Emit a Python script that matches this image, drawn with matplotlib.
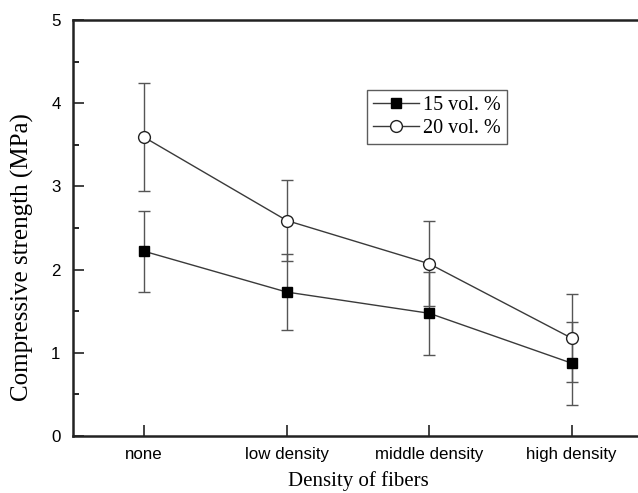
import matplotlib
matplotlib.use("Agg")
import matplotlib.pyplot as plt
from matplotlib.ticker import MultipleLocator
from matplotlib.lines import Line2D

categories = ["none", "low density", "middle density", "high density"]
s15 = [2.22, 1.73, 1.475, 0.875]
e15 = [0.49, 0.46, 0.50, 0.50]
s20 = [3.59, 2.59, 2.07, 1.175]
e20 = [0.65, 0.49, 0.51, 0.53]
labels = ["15 vol. %", "20 vol. %"]

W, H = 638, 493
fig = plt.figure(figsize=(W / 100, H / 100), dpi=100)
x0, x1 = 73, 643
y0, y1 = 20, 436
ax = fig.add_axes([x0 / W, (H - y1) / H, (x1 - x0) / W, (y1 - y0) / H])

x = list(range(1, len(categories) + 1))
style15 = dict(color="#3a3a3a", lw=1.0, marker="s", ms=7, mfc="black", mec="black")
style20 = dict(color="#3a3a3a", lw=1.0, marker="o", ms=8.5, mfc="white", mec="#222222", mew=1.0)
ax.errorbar(x, s15, yerr=e15, ecolor="#555555", elinewidth=1.0, capsize=4.5,
            capthick=1.0, zorder=3, **style15)
ax.errorbar(x, s20, yerr=e20, ecolor="#555555", elinewidth=1.0, capsize=4.5,
            capthick=1.0, zorder=3, **style20)

ax.set_xlim(0.5, 4.5)
ax.set_ylim(0, 5)
ax.set_xticks(x)
ax.set_xticklabels(categories)
ax.yaxis.set_major_locator(MultipleLocator(1))
ax.yaxis.set_minor_locator(MultipleLocator(0.5))
ax.tick_params(axis="both", which="major", direction="in", length=8, width=1.2,
               labelsize=12.2, color="#222222")
ax.tick_params(axis="y", which="minor", direction="in", length=4.5, width=1.2)
for lab in ax.get_xticklabels() + ax.get_yticklabels():
    lab.set_fontfamily("Liberation Sans")
ax.tick_params(axis="x", pad=8)
ax.tick_params(axis="y", pad=9)

for side in ["left", "bottom", "top"]:
    ax.spines[side].set_linewidth(1.8)
    ax.spines[side].set_color("#222222")
ax.spines["right"].set_visible(False)

fig.text((x0 + x1) / 2 / W, 1 - 481 / H, "Density of fibers", family="Liberation Serif",
         fontsize=15, ha="center", va="center")
fig.text(22 / W, 1 - 257 / H, "Compressive strength (MPa)", family="Liberation Serif",
         fontsize=18, ha="center", va="center", rotation=90)

handles = [Line2D([], [], **style15), Line2D([], [], **style20)]
leg = ax.legend(handles, labels, loc="upper left",
                bbox_to_anchor=((367 - x0) / (x1 - x0), (y1 - 90) / (y1 - y0)),
                prop={"family": "Liberation Serif", "size": 14.5}, frameon=True,
                fancybox=False, edgecolor="#333333", handlelength=2.3,
                handletextpad=0.2, borderpad=0.3, labelspacing=0.2, borderaxespad=0)
leg.get_frame().set_linewidth(1.0)

fig.savefig("out.png", dpi=100)
